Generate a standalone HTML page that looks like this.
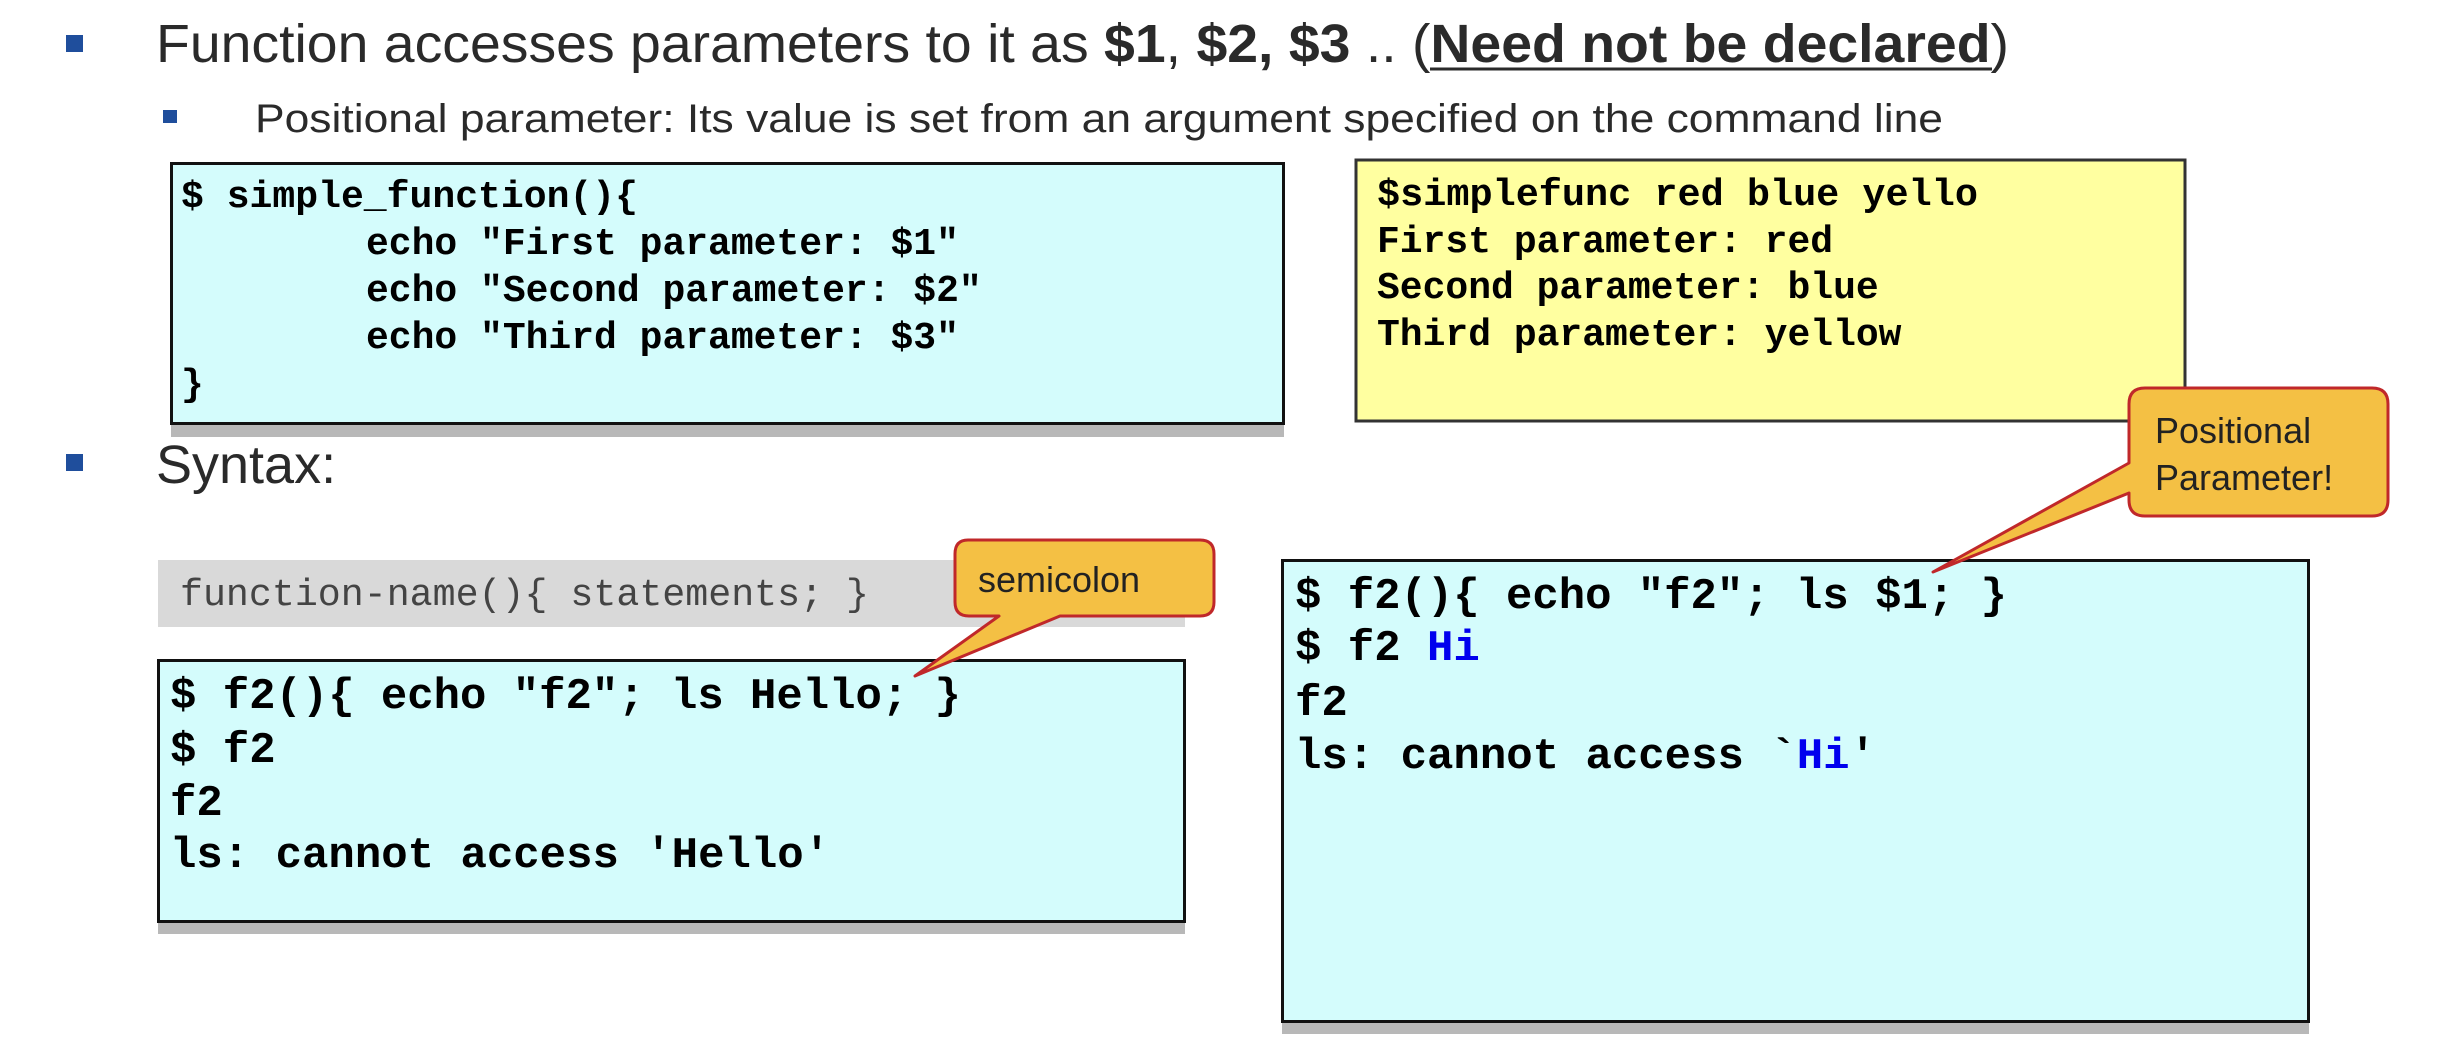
<!DOCTYPE html>
<html><head><meta charset="utf-8"><style>html,body{margin:0;padding:0;background:#fff}svg{display:block}</style></head>
<body>
<svg width="2440" height="1038" viewBox="0 0 2440 1038" xmlns="http://www.w3.org/2000/svg">
<rect width="2440" height="1038" fill="#fff"/>
<!-- bullets -->
<rect x="66" y="35" width="17" height="17" fill="#1f4e9c"/>
<rect x="163" y="110" width="14" height="13" fill="#1f4e9c"/>
<rect x="66" y="454" width="17" height="17" fill="#1f4e9c"/>
<g font-family="Liberation Sans, Arial, sans-serif" fill="#2a2a2a">
<text x="156" y="62" font-size="54" textLength="1853" lengthAdjust="spacingAndGlyphs">Function accesses parameters to it as <tspan font-weight="bold">$1</tspan>, <tspan font-weight="bold">$2, $3</tspan> .. (<tspan font-weight="bold">Need not be declared</tspan>)</text>
<line x1="1430" y1="69" x2="1992" y2="69" stroke="#2a2a2a" stroke-width="3"/>
<text x="255" y="132" font-size="40" textLength="1688" lengthAdjust="spacingAndGlyphs">Positional parameter: Its value is set from an argument specified on the command line</text>
<text x="156" y="483" font-size="54">Syntax:</text>
</g>
<!-- box 1 -->
<rect x="171" y="424" width="1113" height="13" fill="#b8b8b8"/>
<rect x="171.5" y="163.5" width="1112" height="260" fill="#d4fcfc" stroke="#111" stroke-width="3"/>
<g font-family="Liberation Mono, Courier New, monospace" font-weight="bold" font-size="38" fill="#000">
<text x="181" y="207" textLength="457" lengthAdjust="spacingAndGlyphs">$ simple_function(){</text>
<text x="366" y="254">echo "First parameter: $1"</text>
<text x="366" y="301">echo "Second parameter: $2"</text>
<text x="366" y="348">echo "Third parameter: $3"</text>
<text x="181" y="395">}</text>
</g>
<!-- yellow box -->
<rect x="1356" y="160" width="829" height="261" fill="#ffffa0" stroke="#333" stroke-width="3"/>
<g font-family="Liberation Mono, Courier New, monospace" font-weight="bold" font-size="38" fill="#000">
<text x="1377" y="205" textLength="601" lengthAdjust="spacingAndGlyphs">$simplefunc red blue yello</text>
<text x="1377" y="252">First parameter: red</text>
<text x="1377" y="298">Second parameter: blue</text>
<text x="1377" y="345">Third parameter: yellow</text>
</g>
<!-- syntax gray -->
<rect x="158" y="560" width="1027" height="67" fill="#d9d9d9"/>
<text x="180" y="605" font-family="Liberation Mono, Courier New, monospace" font-size="38" fill="#444" textLength="689" lengthAdjust="spacingAndGlyphs">function-name(){ statements; }</text>
<!-- box 2 -->
<rect x="158" y="922" width="1027" height="12" fill="#b8b8b8"/>
<rect x="158.5" y="660.5" width="1026" height="261" fill="#d4fcfc" stroke="#111" stroke-width="3"/>
<g font-family="Liberation Mono, Courier New, monospace" font-weight="bold" font-size="44" fill="#000">
<text x="170" y="708" textLength="791" lengthAdjust="spacingAndGlyphs">$ f2(){ echo "f2"; ls Hello; }</text>
<text x="170" y="762">$ f2</text>
<text x="170" y="815">f2</text>
<text x="170" y="867">ls: cannot access 'Hello'</text>
</g>
<!-- box 3 -->
<rect x="1282" y="1022" width="1027" height="12" fill="#b8b8b8"/>
<rect x="1282.5" y="560.5" width="1026" height="461" fill="#d4fcfc" stroke="#111" stroke-width="3"/>
<g font-family="Liberation Mono, Courier New, monospace" font-weight="bold" font-size="44" fill="#000">
<text x="1295" y="608" textLength="712" lengthAdjust="spacingAndGlyphs">$ f2(){ echo "f2"; ls $1; }</text>
<text x="1295" y="660">$ f2 <tspan fill="#0000ee">Hi</tspan></text>
<text x="1295" y="715">f2</text>
<text x="1295" y="768">ls: cannot access `<tspan fill="#0000ee">Hi</tspan>'</text>
</g>
<!-- callout semicolon -->
<path d="M968,540 H1200 Q1214,540 1214,554 V602 Q1214,616 1200,616 H1060 L915,676 L999,616 H969 Q955,616 955,602 V554 Q955,540 968,540 Z" fill="#f4c044" stroke="#c0282a" stroke-width="3" stroke-linejoin="round"/>
<text x="978" y="592" font-family="Liberation Sans, Arial, sans-serif" font-size="36" fill="#222">semicolon</text>
<!-- callout positional -->
<path d="M2145,388 H2372 Q2388,388 2388,404 V500 Q2388,516 2372,516 H2145 Q2129,516 2129,500 V493 L1933,572 L2129,463 V404 Q2129,388 2145,388 Z" fill="#f4c044" stroke="#c0282a" stroke-width="3" stroke-linejoin="round"/>
<g font-family="Liberation Sans, Arial, sans-serif" font-size="36" fill="#222">
<text x="2155" y="443">Positional</text>
<text x="2155" y="490">Parameter!</text>
</g>
</svg>
</body></html>
